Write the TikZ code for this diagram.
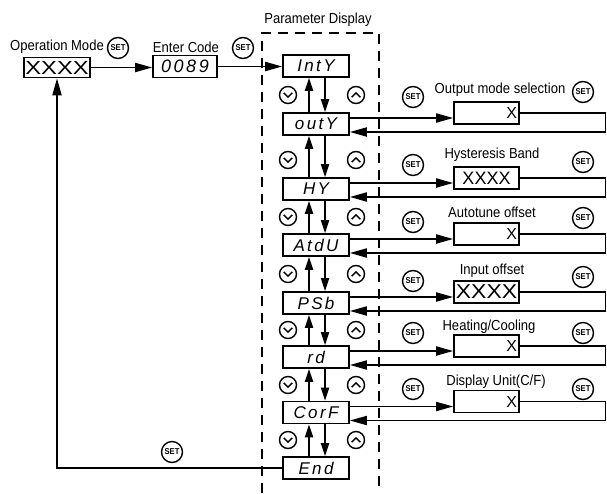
\documentclass[tikz,border=0pt]{standalone}
\usepackage{fontspec}
\setmainfont{Liberation Sans}
\newfontfamily\labfont[FakeStretch=0.9]{Liberation Sans}
\newfontfamily\segfont[LetterSpace=14]{Liberation Sans}
\usetikzlibrary{arrows.meta,calc}
\tikzset{
  pbox/.style={draw, line width=1.6pt, minimum width=66pt, minimum height=22pt, inner sep=0pt,
    font=\fontsize{17}{17}\segfont\itshape},
  obox/.style={draw, line width=1.6pt, minimum width=65pt, minimum height=22pt, inner sep=0pt},
  xright/.style={text width=61pt, align=right, font=\fontsize{16}{16}\selectfont},
  xxxx/.style={font=\fontsize{18}{18}\selectfont},
  conn/.style={line width=1.8pt},
  harr/.style={-{Triangle[length=17pt,width=9pt]}},
  varr/.style={-{Triangle[length=13pt,width=8pt]}},
  setbtn/.style={circle, draw, line width=1.4pt, minimum size=21pt, inner sep=0pt,
    font=\fontsize{8.5}{9}\bfseries\labfont},
  lbl/.style={font=\fontsize{14.5}{15}\labfont, inner sep=0pt},
  dnsym/.style={circle, draw, line width=1.4pt, minimum size=17pt, inner sep=0pt,
    path picture={\draw[line width=1.4pt]
      ([shift={(-4.3pt,2.2pt)}]path picture bounding box.center) --
      ([shift={(0pt,-2.2pt)}]path picture bounding box.center) --
      ([shift={(4.3pt,2.2pt)}]path picture bounding box.center);}},
  upsym/.style={circle, draw, line width=1.4pt, minimum size=17pt, inner sep=0pt,
    path picture={\draw[line width=1.4pt]
      ([shift={(-4.3pt,-2.2pt)}]path picture bounding box.center) --
      ([shift={(0pt,2.2pt)}]path picture bounding box.center) --
      ([shift={(4.3pt,-2.2pt)}]path picture bounding box.center);}},
  dashline/.style={line width=1.7pt, dash pattern=on 10pt off 7pt}
}
\begin{document}
\begin{tikzpicture}[x=1pt,y=-1pt]
\useasboundingbox (0,0) rectangle (607,493);
\fill[white] (0,0) rectangle (607,493);

% top-left
\node[lbl] (opl) at (57,47) {Operation Mode};
\node[setbtn] (s0) at (118,48) {SET};
\node[draw, line width=1.6pt, minimum width=66pt, minimum height=20pt, inner sep=0pt,
      font=\fontsize{19}{19}\selectfont] (op) at (57,67.5) {\scalebox{1.25}[1]{XXXX}};
\node[lbl] (ecl) at (186,47) {Enter Code};
\node[setbtn] (s1) at (243,48) {SET};
\node[pbox, minimum width=64pt, font=\fontsize{18}{18}\segfont\itshape] (ec) at (185,66.5) {0089};

% parameter display frame
\node[lbl] (pdl) at (318,20) {Parameter Display};
\draw[dashline] (262,493) -- (262,33) -- (379,33) -- (379,493);

% parameter boxes
\node[pbox] (p1) at (316,66) {IntY};
\node[pbox] (p2) at (316,124) {outY};
\node[pbox] (p3) at (316,189) {HY};
\node[pbox] (p4) at (316,245) {AtdU};
\node[pbox] (p5) at (316,303) {PSb};
\node[pbox] (p6) at (316,357) {rd};
\node[pbox] (p7) at (316,412.5) {CorF};
\node[pbox] (p8) at (316,468) {End};

% up/down symbols
\foreach \y [count=\k] in {95,160,217,274,330,385,440} {
  \node[dnsym] (dn\k) at (288,\y) {};
  \node[upsym] (up\k) at (356,\y) {};
}

% vertical arrows
\foreach \a/\b in {1/2,2/3,3/4,4/5,5/6,6/7,7/8} {
  \draw[conn,varr] ([xshift=-7pt]p\b.north) -- ([xshift=-7pt]p\a.south);
  \draw[conn,varr] ([xshift=9pt]p\a.south) -- ([xshift=9pt]p\b.north);
}

% output boxes
\node[obox, xright] (o2) at (486.5,113) {X};
\node[obox, xxxx] (o3) at (486.5,178) {XXXX};
\node[obox, xright] (o4) at (486.5,234) {X};
\node[obox, font=\fontsize{20}{20}\selectfont] (o5) at (486.5,292) {\scalebox{1.15}[1]{XXXX}};
\node[obox, xright] (o6) at (486.5,346) {X};
\node[obox, xright] (o7) at (486.5,401.5) {X};

% labels
\node[lbl] (l2) at (500,90) {Output mode selection};
\node[lbl] (l3) at (492,155) {Hysteresis Band};
\node[lbl] (l4) at (492,212) {Autotune offset};
\node[lbl] (l5) at (492,271) {Input offset};
\node[lbl] (l6) at (489,327) {Heating/Cooling};
\node[lbl] (l7) at (496,382) {Display Unit(C/F)};

% SET buttons
\foreach \yl/\yr [count=\k] in {97/92,165/162,222/218,281/277,333/333,389/389} {
  \node[setbtn] (sl\k) at (413,\yl) {SET};
  \node[setbtn] (sr\k) at (583,\yr) {SET};
}
\node[setbtn] (sb) at (172,452) {SET};

% connectors
\coordinate (rx) at (605.5,0);
\foreach \i in {2,...,7} {
  \coordinate (ret\i) at ([yshift=-8pt]p\i.east);
  \draw[conn,harr] ([yshift=6pt]p\i.east) -- ([yshift=-5pt]o\i.west);
  \draw[conn,harr] (o\i.east) -- (o\i.east -| rx) -- (ret\i -| rx) -- (ret\i);
}
\draw[conn,harr] (op.east) -- (ec.west |- op.east);
\draw[conn,harr] (ec.east) -- (p1.west |- ec.east);
\draw[conn,harr] (p8.west) -- (p8.west -| op.south) -- (op.south);
\end{tikzpicture}
\end{document}
